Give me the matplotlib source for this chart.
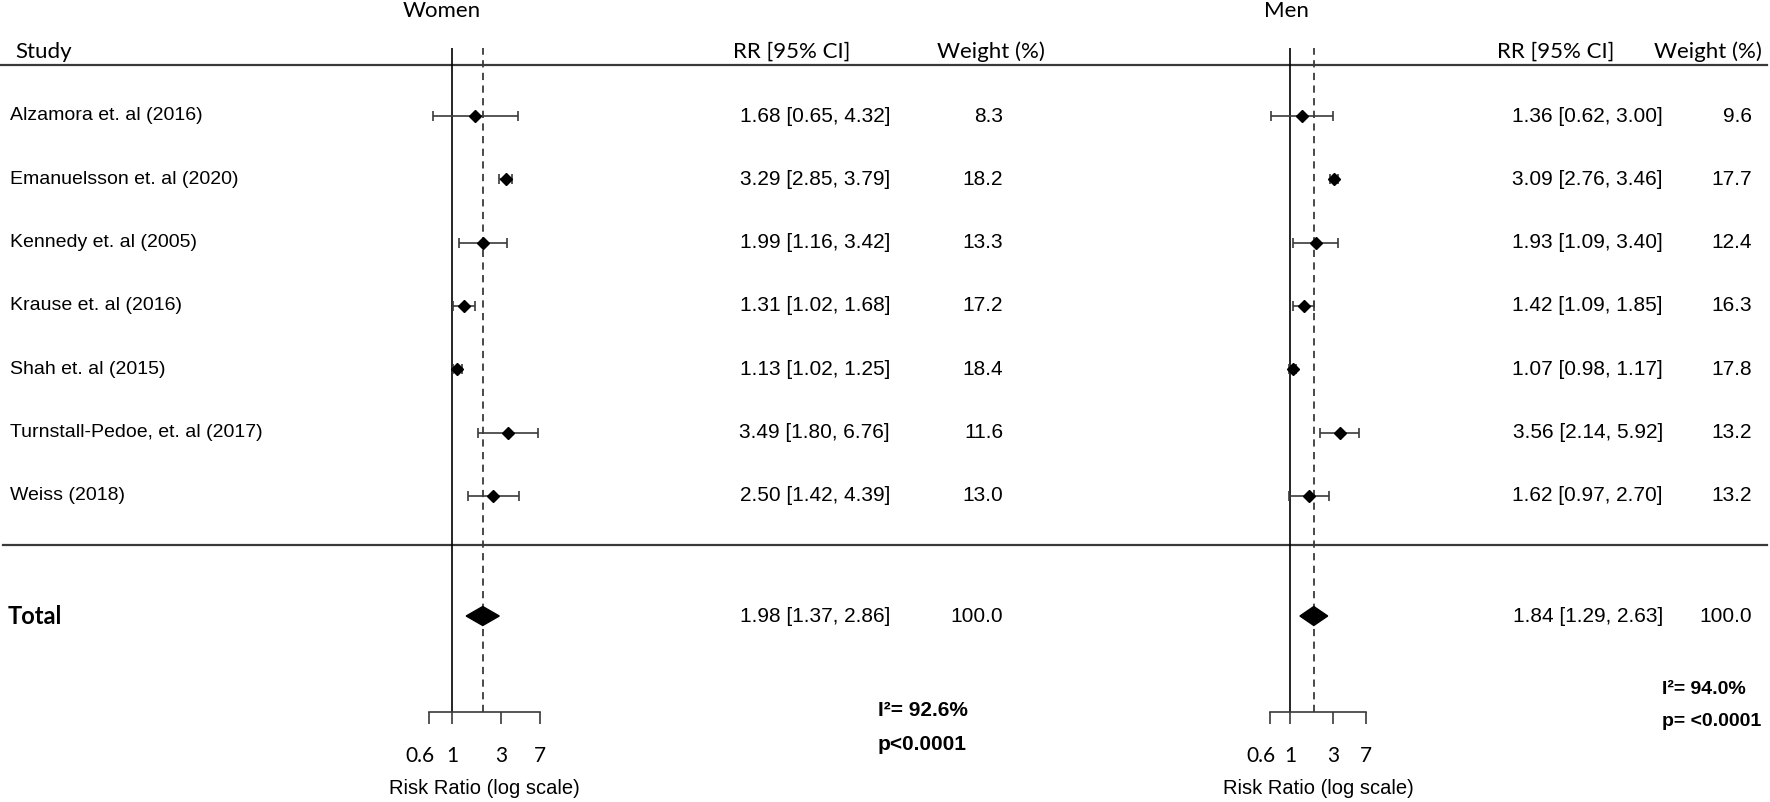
import numpy as np
import matplotlib.pyplot as plt
import matplotlib.transforms as mtransforms
from matplotlib.patches import Polygon
from matplotlib.ticker import NullLocator

# data
studies = ["Alzamora et. al (2016)", "Emanuelsson et. al (2020)", "Kennedy et. al (2005)",
           "Krause et. al (2016)", "Shah et. al (2015)", "Turnstall-Pedoe, et. al (2017)",
           "Weiss (2018)"]

women_rr = [1.68, 3.29, 1.99, 1.31, 1.13, 3.49, 2.50]
women_lo = [0.65, 2.85, 1.16, 1.02, 1.02, 1.80, 1.42]
women_hi = [4.32, 3.79, 3.42, 1.68, 1.25, 6.76, 4.39]
women_wt = [8.3, 18.2, 13.3, 17.2, 18.4, 11.6, 13.0]
women_total = [1.98, 1.37, 2.86]
women_i2 = "I²= 92.6%"
women_p = "p<0.0001"

men_rr = [1.36, 3.09, 1.93, 1.42, 1.07, 3.56, 1.62]
men_lo = [0.62, 2.76, 1.09, 1.09, 0.98, 2.14, 0.97]
men_hi = [3.00, 3.46, 3.40, 1.85, 1.17, 5.92, 2.70]
men_wt = [9.6, 17.7, 12.4, 16.3, 17.8, 13.2, 13.2]
men_total = [1.84, 1.29, 2.63]
men_i2 = "I²= 94.0%"
men_p = "p= <0.0001"

total_wt = 100.0
ticks = [0.6, 1, 3, 7]
tick_labels = ["0.6", "1", "3", "7"]

##################################################
W, H = 1770, 802
fig = plt.figure(figsize=(W / 100, H / 100), dpi=100)
bg = fig.add_axes([0, 0, 1, 1])
bg.set_xlim(0, W)
bg.set_ylim(H, 0)
bg.axis('off')

# layout in pixels
TOP, BOTTOM = 48, 712
ROW0, STEP = 116, 63.3
TOTAL_PX = 616
rows = np.arange(len(studies))
total_row = (TOTAL_PX - ROW0) / STEP

SANS = 'Liberation Sans'
CAL = 'Lato'
GREY = '#3a3a3a'


def forest(x_one, k, rr, lo, hi, tot):
    xlim = (0.5, 8)
    left = x_one + k * np.log(xlim[0])
    right = x_one + k * np.log(xlim[1])
    ax = fig.add_axes([left / W, (H - BOTTOM) / H, (right - left) / W, (BOTTOM - TOP) / H])
    ax.patch.set_alpha(0)
    ax.set_xscale('log')
    ax.set_xlim(*xlim)
    ax.set_ylim((BOTTOM - ROW0) / STEP, (TOP - ROW0) / STEP)
    rr, lo, hi = np.array(rr), np.array(lo), np.array(hi)

    ax.axvline(1, color='black', lw=1.2, zorder=1)
    ax.axvline(tot[0], color=GREY, lw=1.3, ls=(0, (4, 3)), zorder=1)
    ax.errorbar(rr, rows, xerr=[rr - lo, hi - rr], fmt='D', ms=6.5, mfc='black', mec='black',
                ecolor=GREY, elinewidth=1.2, capsize=3.5, capthick=1.2, zorder=3, clip_on=False)
    h = 9.5 / STEP
    dia = Polygon([(tot[1], total_row), (tot[0], total_row - h), (tot[2], total_row),
                   (tot[0], total_row + h)], closed=True, fc='black', ec='black', zorder=3)
    ax.add_patch(dia)

    for s in ['left', 'top', 'right']:
        ax.spines[s].set_visible(False)
    ax.spines['bottom'].set_bounds(ticks[0], ticks[-1])
    ax.spines['bottom'].set_linewidth(1.2)
    ax.spines['bottom'].set_color(GREY)
    ax.set_xticks(ticks)
    ax.set_xticklabels(tick_labels)
    ax.xaxis.set_minor_locator(NullLocator())
    ax.set_yticks([])
    ax.tick_params(axis='x', direction='out', length=8.6, width=1.2, color=GREY,
                   labelsize=15, pad=16)
    for i, lbl in enumerate(ax.get_xticklabels()):
        lbl.set_fontfamily(CAL)
        if i == 0:
            lbl.set_transform(lbl.get_transform() +
                              mtransforms.ScaledTranslation(-0.09, 0, fig.dpi_scale_trans))
    tr = mtransforms.blended_transform_factory(ax.transData, bg.transData)
    ax.text(np.sqrt(ticks[0] * ticks[-1]), 788, 'Risk Ratio (log scale)', transform=tr,
            ha='center', va='center', family=SANS, size=14.5)
    return ax


axw = forest(452, 45, women_rr, women_lo, women_hi, women_total)
axm = forest(1290, 39, men_rr, men_lo, men_hi, men_total)

rowtr = mtransforms.blended_transform_factory(bg.transData, axw.transData)

# rules
bg.plot([0, 1767], [65, 65], color=GREY, lw=1.6)
bg.plot([3, 1767], [545, 545], color=GREY, lw=1.6)

# headers
bg.text(442, 11, 'Women', ha='center', va='center', family=CAL, size=16)
bg.text(1286, 11, 'Men', ha='center', va='center', family=CAL, size=16)
bg.text(15, 52, 'Study', va='center', family=CAL, size=16)
bg.text(733, 52, 'RR [95% CI]', va='center', family=CAL, size=16)
bg.text(937, 52, 'Weight (%)', va='center', family=CAL, size=16)
bg.text(1497, 52, 'RR [95% CI]', va='center', family=CAL, size=16)
bg.text(1654, 52, 'Weight (%)', va='center', family=CAL, size=16)

for i, name in enumerate(studies):
    bg.text(10, rows[i], name, transform=rowtr, va='center', family=SANS, size=14)
    bg.text(890, rows[i], f"{women_rr[i]:.2f} [{women_lo[i]:.2f}, {women_hi[i]:.2f}]",
            transform=rowtr, ha='right', va='center', family=SANS, size=15)
    bg.text(1003, rows[i], f"{women_wt[i]:.1f}", transform=rowtr, ha='right', va='center',
            family=SANS, size=15)
    bg.text(1663, rows[i], f"{men_rr[i]:.2f} [{men_lo[i]:.2f}, {men_hi[i]:.2f}]",
            transform=rowtr, ha='right', va='center', family=SANS, size=15)
    bg.text(1752, rows[i], f"{men_wt[i]:.1f}", transform=rowtr, ha='right', va='center',
            family=SANS, size=15)

# totals
bg.text(8, total_row, 'Total', transform=rowtr, va='center', family=CAL, weight='bold', size=17)
bg.text(890, total_row, f"{women_total[0]:.2f} [{women_total[1]:.2f}, {women_total[2]:.2f}]",
        transform=rowtr, ha='right', va='center', family=SANS, size=15)
bg.text(1003, total_row, f"{total_wt:.1f}", transform=rowtr, ha='right', va='center',
        family=SANS, size=15)
bg.text(1663, total_row, f"{men_total[0]:.2f} [{men_total[1]:.2f}, {men_total[2]:.2f}]",
        transform=rowtr, ha='right', va='center', family=SANS, size=15)
bg.text(1752, total_row, f"{total_wt:.1f}", transform=rowtr, ha='right', va='center',
        family=SANS, size=15)

# heterogeneity
bg.text(878, 711, women_i2, va='center', family=SANS, weight='bold', size=15)
bg.text(878, 744, women_p, va='center', family=SANS, weight='bold', size=15)
bg.text(1662, 689, men_i2, va='center', family=SANS, weight='bold', size=14)
bg.text(1662, 722, men_p, va='center', family=SANS, weight='bold', size=14)

fig.savefig('out.png', dpi=100)
